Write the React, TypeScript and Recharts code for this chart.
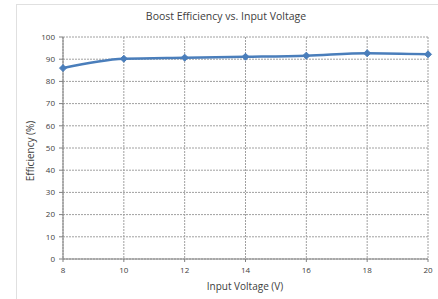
import React from 'react';
import { LineChart, Line, XAxis, YAxis, CartesianGrid } from 'recharts';

const voltages = [8, 10, 12, 14, 16, 18, 20];
const efficiency = [86.0, 90.2, 90.7, 91.1, 91.6, 92.7, 92.2];
const xTicks = [8, 10, 12, 14, 16, 18, 20];
const yTicks = [0, 10, 20, 30, 40, 50, 60, 70, 80, 90, 100];
const xMinorTicks = [8, 8.4, 8.8, 9.2, 9.6, 10, 10.4, 10.8, 11.2, 11.6, 12, 12.4, 12.8, 13.2, 13.6, 14, 14.4, 14.8, 15.2, 15.6, 16, 16.4, 16.8, 17.2, 17.6, 18, 18.4, 18.8, 19.2, 19.6, 20];
const yMinorTicks = [0, 2, 4, 6, 8, 10, 12, 14, 16, 18, 20, 22, 24, 26, 28, 30, 32, 34, 36, 38, 40, 42, 44, 46, 48, 50, 52, 54, 56, 58, 60, 62, 64, 66, 68, 70, 72, 74, 76, 78, 80, 82, 84, 86, 88, 90, 92, 94, 96, 98, 100];

const data = voltages.map((v, i) => ({ v, eff: efficiency[i] }));

const FONT = '"Open Sans", "Noto Sans", sans-serif';
const LINE = '#4a7ebb';

const Diamond = (props: any) => {
  const { cx, cy } = props;
  if (cx == null || cy == null) return null;
  const r = 3.5;
  return (
    <polygon
      points={`${cx},${cy - r} ${cx + r},${cy} ${cx},${cy + r} ${cx - r},${cy}`}
      fill={LINE}
      stroke={LINE}
      strokeWidth={1}
    />
  );
};

export default function App() {
  return (
    <div style={{ position: 'absolute', left: 0, top: 0, width: 438, height: 299, background: '#fff', overflow: 'hidden', fontFamily: FONT }}>
      <div style={{ position: 'absolute', left: 16, top: 4, width: 430, height: 300, borderLeft: '1px solid #e0e0e0', borderTop: '1px solid #e0e0e0' }} />
      <div style={{ position: 'absolute', left: 126, width: 200, top: 9, textAlign: 'center', fontSize: 10.5, color: '#404040', fontFamily: FONT }}>
        Boost Efficiency vs. Input Voltage
      </div>
      <div style={{ position: 'absolute', left: 145, width: 200, top: 279, textAlign: 'center', fontSize: 10, color: '#404040', fontFamily: FONT }}>
        Input Voltage (V)
      </div>
      <div style={{ position: 'absolute', left: 30, top: 151, width: 0, height: 0 }}>
        <div style={{ position: 'absolute', left: -60, top: -7, width: 120, textAlign: 'center', fontSize: 10, color: '#404040', transform: 'rotate(-90deg)', fontFamily: FONT, lineHeight: '14px' }}>
          Efficiency (%)
        </div>
      </div>
      <div style={{ position: 'absolute', left: 0, top: 0 }}>
        <LineChart width={438} height={299} data={data} margin={{ top: 37, right: 10, left: 0, bottom: 0 }}>
          <CartesianGrid stroke="#a0a0a0" strokeDasharray="2 1" xAxisId={0} yAxisId={0} />
          <XAxis
            xAxisId="m"
            dataKey="v"
            type="number"
            domain={[8, 20]}
            ticks={xMinorTicks}
            tickFormatter={() => ''}
            tickSize={2}
            axisLine={false}
            tickLine={{ stroke: '#808080', transform: 'translate(0,-2)' }}
            height={0}
            interval={0}
          />
          <XAxis
            xAxisId={0}
            dataKey="v"
            type="number"
            domain={[8, 20]}
            ticks={xTicks}
            interval={0}
            height={40}
            tickSize={3}
            axisLine={{ stroke: '#808080' }}
            tickLine={{ stroke: '#808080' }}
            tick={{ fontSize: 8, fill: '#404040', fontFamily: FONT }}
            tickMargin={5}
          />
          <YAxis
            yAxisId="m"
            type="number"
            domain={[0, 100]}
            ticks={yMinorTicks}
            tickFormatter={() => ''}
            tickSize={2}
            axisLine={false}
            tickLine={{ stroke: '#808080', transform: 'translate(2,0)' }}
            width={0}
            interval={0}
          />
          <YAxis
            yAxisId={0}
            type="number"
            domain={[0, 100]}
            ticks={yTicks}
            interval={0}
            width={63}
            tickSize={4}
            axisLine={{ stroke: '#808080' }}
            tickLine={{ stroke: '#808080' }}
            tick={{ fontSize: 8, fill: '#404040', fontFamily: FONT }}
            tickMargin={4}
          />
          <Line
            xAxisId={0}
            yAxisId={0}
            type="monotone"
            dataKey="eff"
            stroke={LINE}
            strokeWidth={2.5}
            dot={<Diamond />}
            isAnimationActive={false}
          />
        </LineChart>
      </div>
    </div>
  );
}
